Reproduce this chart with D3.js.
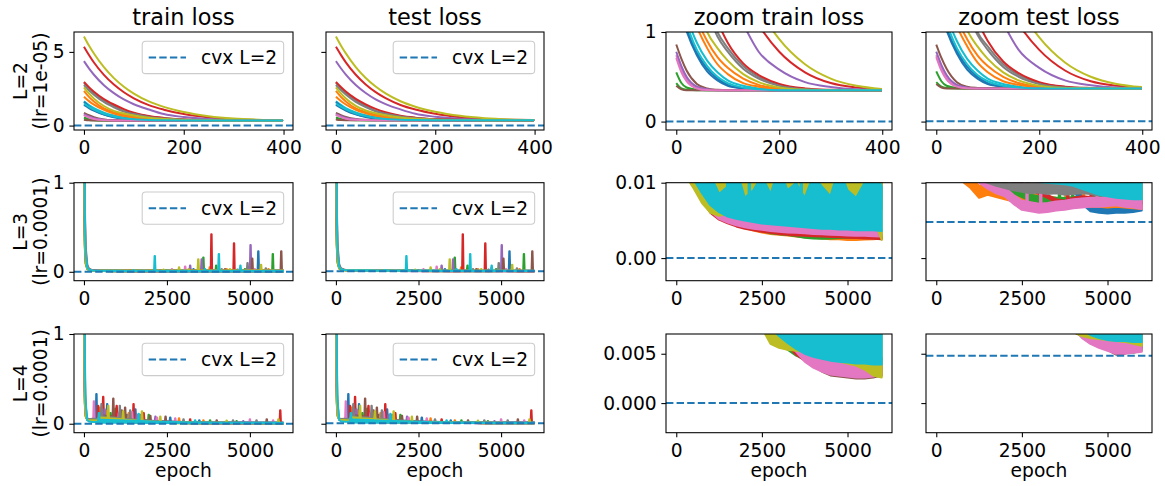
<!DOCTYPE html>
<html><head><meta charset="utf-8">
<script src="https://cdn.jsdelivr.net/npm/d3@7"></script>
<style>body{margin:0;background:#fff}svg{display:block}text{font-family:"DejaVu Sans",sans-serif}</style>
</head><body><svg id="c" width="1165" height="486"></svg>
<script>
// ---------------- data ----------------
const colors = ["#1f77b4","#ff7f0e","#2ca02c","#d62728","#9467bd","#8c564b","#e377c2","#7f7f7f","#bcbd22","#17becf"];
const colTitles = ["train loss","test loss","zoom train loss","zoom test loss"];
const rowLabels = [["L=2","(lr=1e-05)"],["L=3","(lr=0.0001)"],["L=4","(lr=0.0001)"]];
const legendLabel = "cvx L=2";
const xLabel = "epoch";
const cvxTrain = 0.0, cvxTest = 0.0048;
const xTicksL2 = [0,200,400], xTicksLong = [0,2500,5000];

// L=2 : 20 runs, loss sampled at these epochs
const epochsL2 = [0,10,20,40,60,80,100,130,160,200,250,300,350,399];
const trainL2 = [
 [1.40,1.19,1.01,0.74,0.56,0.46,0.40,0.37,0.355,0.35,0.35,0.35,0.35,0.35],
 [2.36,1.95,1.63,1.16,0.90,0.72,0.60,0.48,0.41,0.37,0.355,0.35,0.35,0.35],
 [0.55,0.43,0.38,0.355,0.35,0.35,0.35,0.35,0.35,0.35,0.35,0.35,0.35,0.35],
 [5.35,4.79,4.28,3.44,2.78,2.26,1.85,1.39,1.08,0.78,0.55,0.43,0.38,0.36],
 [4.37,3.88,3.45,2.74,2.20,1.77,1.45,1.09,0.78,0.58,0.44,0.385,0.36,0.355],
 [0.86,0.70,0.57,0.42,0.37,0.355,0.35,0.35,0.35,0.35,0.35,0.35,0.35,0.35],
 [0.74,0.58,0.47,0.38,0.355,0.35,0.35,0.35,0.35,0.35,0.35,0.35,0.35,0.35],
 [2.90,2.52,2.20,1.69,1.32,1.00,0.82,0.62,0.50,0.41,0.365,0.352,0.35,0.35],
 [6.05,5.43,4.89,3.96,3.22,2.64,2.17,1.64,1.27,0.92,0.64,0.48,0.40,0.365],
 [1.65,1.39,1.18,0.88,0.68,0.55,0.46,0.40,0.37,0.355,0.35,0.35,0.35,0.35],
 [1.60,1.30,1.05,0.77,0.59,0.48,0.41,0.37,0.355,0.35,0.35,0.35,0.35,0.35],
 [1.96,1.66,1.42,1.06,0.82,0.64,0.53,0.43,0.39,0.36,0.35,0.35,0.35,0.35],
 [0.43,0.37,0.355,0.35,0.35,0.35,0.35,0.35,0.35,0.35,0.35,0.35,0.35,0.35],
 [2.97,2.61,2.30,1.80,1.43,1.12,0.88,0.65,0.52,0.42,0.37,0.355,0.35,0.35],
 [0.78,0.62,0.50,0.39,0.36,0.35,0.35,0.35,0.35,0.35,0.35,0.35,0.35,0.35],
 [0.40,0.36,0.35,0.35,0.35,0.35,0.35,0.35,0.35,0.35,0.35,0.35,0.35,0.35],
 [0.71,0.55,0.45,0.37,0.352,0.35,0.35,0.35,0.35,0.35,0.35,0.35,0.35,0.35],
 [2.75,2.40,2.10,1.60,1.24,0.95,0.78,0.59,0.48,0.40,0.36,0.35,0.35,0.35],
 [2.60,2.18,1.83,1.33,1.00,0.82,0.68,0.53,0.44,0.38,0.355,0.35,0.35,0.35],
 [1.50,1.27,1.09,0.80,0.62,0.50,0.43,0.38,0.36,0.35,0.35,0.35,0.35,0.35]
];
const testL2 = [
 [1.40,1.20,1.02,0.76,0.58,0.48,0.42,0.39,0.375,0.37,0.37,0.37,0.37,0.37],
 [2.36,1.96,1.64,1.17,0.92,0.74,0.62,0.50,0.43,0.39,0.375,0.37,0.37,0.37],
 [0.56,0.45,0.40,0.375,0.37,0.37,0.37,0.37,0.37,0.37,0.37,0.37,0.37,0.37],
 [5.35,4.80,4.29,3.45,2.79,2.27,1.86,1.40,1.09,0.80,0.57,0.45,0.40,0.38],
 [4.37,3.89,3.46,2.75,2.21,1.78,1.46,1.10,0.80,0.60,0.46,0.405,0.38,0.375],
 [0.86,0.71,0.59,0.44,0.39,0.375,0.37,0.37,0.37,0.37,0.37,0.37,0.37,0.37],
 [0.74,0.59,0.49,0.40,0.375,0.37,0.37,0.37,0.37,0.37,0.37,0.37,0.37,0.37],
 [2.90,2.53,2.21,1.70,1.33,1.00,0.84,0.64,0.52,0.43,0.385,0.372,0.37,0.37],
 [6.05,5.44,4.90,3.97,3.23,2.65,2.18,1.65,1.28,0.94,0.66,0.50,0.42,0.385],
 [1.65,1.40,1.19,0.90,0.70,0.57,0.48,0.42,0.39,0.375,0.37,0.37,0.37,0.37],
 [1.60,1.31,1.06,0.79,0.61,0.50,0.43,0.39,0.375,0.37,0.37,0.37,0.37,0.37],
 [1.96,1.67,1.43,1.07,0.84,0.66,0.55,0.45,0.41,0.38,0.37,0.37,0.37,0.37],
 [0.44,0.39,0.375,0.37,0.37,0.37,0.37,0.37,0.37,0.37,0.37,0.37,0.37,0.37],
 [2.97,2.62,2.31,1.81,1.44,1.13,0.90,0.67,0.54,0.44,0.39,0.375,0.37,0.37],
 [0.78,0.63,0.52,0.41,0.38,0.37,0.37,0.37,0.37,0.37,0.37,0.37,0.37,0.37],
 [0.42,0.38,0.37,0.37,0.37,0.37,0.37,0.37,0.37,0.37,0.37,0.37,0.37,0.37],
 [0.72,0.57,0.47,0.39,0.372,0.37,0.37,0.37,0.37,0.37,0.37,0.37,0.37,0.37],
 [2.75,2.41,2.11,1.61,1.25,0.97,0.80,0.61,0.50,0.42,0.38,0.37,0.37,0.37],
 [2.60,2.19,1.84,1.34,1.02,0.84,0.70,0.55,0.46,0.40,0.375,0.37,0.37,0.37],
 [1.50,1.28,1.10,0.82,0.64,0.52,0.45,0.40,0.38,0.37,0.37,0.37,0.37,0.37]
];

// L=3 / L=4 : 10 runs. early decay (single value) then lower / upper envelope of the noisy loss
const epochsDecay = [0,10,25,50,100,150,250,400];
const epochsLong = [500,750,1000,1250,1500,1750,2000,2250,2500,2750,3000,3250,3500,3750,4000,4250,4500,4750,5000,5250,5500,5750,5999];

const decayL3Train = [
 [3.2,1.2,0.35,0.12,0.04,0.025,0.016,0.0125],
 [2.8,1.0,0.3,0.1,0.035,0.02,0.014,0.0108],
 [2.5,0.9,0.28,0.09,0.03,0.019,0.0135,0.0108],
 [4.0,1.5,0.45,0.15,0.05,0.025,0.014,0.0102],
 [3.5,1.3,0.4,0.14,0.045,0.026,0.017,0.013],
 [3.0,1.4,0.6,0.2,0.06,0.03,0.018,0.013],
 [3.8,1.6,0.7,0.25,0.07,0.03,0.015,0.0106],
 [4.2,1.8,0.8,0.3,0.08,0.035,0.019,0.014],
 [2.6,1.0,0.32,0.11,0.035,0.02,0.013,0.0100],
 [5.0,2.0,0.7,0.2,0.05,0.025,0.015,0.011]
];
const loL3Train = [
 [0.012,0.0115,0.011,0.011,0.0108,0.0108,0.0107,0.0107,0.0106,0.0106,0.0106,0.0105,0.0105,0.0105,0.0105,0.0104,0.0104,0.0104,0.0104,0.0103,0.0103,0.0103,0.0103],
 [0.0105,0.0086,0.0066,0.0056,0.0049,0.0044,0.0040,0.00365,0.0034,0.0032,0.0031,0.0030,0.00285,0.00275,0.0027,0.0026,0.0025,0.0025,0.0024,0.0024,0.00245,0.0025,0.0026],
 [0.0108,0.0088,0.0068,0.0058,0.0050,0.0045,0.0041,0.0038,0.00355,0.0033,0.00315,0.00305,0.0029,0.0027,0.0026,0.00255,0.0026,0.00265,0.0027,0.0027,0.00275,0.0028,0.0028],
 [0.0096,0.0076,0.0060,0.0051,0.0046,0.0042,0.0039,0.0037,0.0035,0.00335,0.0032,0.0031,0.0030,0.00295,0.0029,0.00285,0.0028,0.00275,0.0027,0.00265,0.0026,0.00255,0.0025],
 [0.012,0.012,0.011,0.0100,0.0096,0.0098,0.0095,0.0097,0.0094,0.0096,0.0098,0.0095,0.0097,0.0093,0.0096,0.0094,0.0095,0.0092,0.0096,0.0090,0.0088,0.0092,0.0090],
 [0.012,0.011,0.0095,0.0085,0.0088,0.0090,0.0086,0.0089,0.0092,0.0087,0.0090,0.0085,0.0088,0.0091,0.0086,0.0089,0.0084,0.0088,0.0090,0.0085,0.0087,0.0082,0.0080],
 [0.0102,0.0080,0.0062,0.0052,0.0047,0.00435,0.0041,0.0039,0.00375,0.0036,0.0035,0.0034,0.00335,0.0033,0.0032,0.00315,0.0031,0.00305,0.0030,0.00295,0.00295,0.0029,0.00285],
 [0.013,0.012,0.010,0.0090,0.0082,0.0086,0.0080,0.0085,0.0088,0.0082,0.0086,0.0080,0.0084,0.0089,0.0083,0.0086,0.0081,0.0085,0.0082,0.0080,0.0086,0.0083,0.0065],
 [0.0093,0.0073,0.0060,0.0056,0.0059,0.0063,0.0065,0.0060,0.0064,0.0068,0.0060,0.0065,0.0070,0.0064,0.0067,0.0058,0.0061,0.0067,0.0064,0.0060,0.0058,0.0054,0.0024],
 [0.0105,0.0086,0.0070,0.0061,0.0055,0.0052,0.0050,0.0048,0.0046,0.0045,0.0044,0.0043,0.0042,0.0041,0.0040,0.0039,0.0039,0.0038,0.0038,0.0037,0.0037,0.0037,0.0036]
];
const hiL3Train = [
 [0.014,0.0135,0.013,0.013,0.0128,0.0128,0.0127,0.0127,0.0126,0.0126,0.0126,0.0125,0.0125,0.0125,0.0125,0.0124,0.0124,0.0124,0.0124,0.0123,0.0123,0.0123,0.0123],
 [0.011,0.0094,0.0074,0.0063,0.0056,0.0050,0.0046,0.0042,0.0039,0.0037,0.0036,0.0035,0.00335,0.00325,0.0032,0.0031,0.0030,0.0030,0.0029,0.0029,0.00295,0.0030,0.0031],
 [0.0113,0.0093,0.0073,0.0063,0.0055,0.0050,0.0046,0.0043,0.00405,0.0038,0.00365,0.00355,0.0034,0.0032,0.0031,0.00305,0.0031,0.00315,0.0032,0.0032,0.00325,0.0033,0.0033],
 [0.0104,0.0083,0.0066,0.0056,0.0051,0.0047,0.0044,0.0042,0.0040,0.00385,0.0037,0.0036,0.0035,0.00345,0.0034,0.00335,0.0033,0.00325,0.0032,0.00315,0.0031,0.00305,0.0030],
 [0.014,0.014,0.014,0.014,0.014,0.014,0.014,0.014,0.014,0.014,0.014,0.014,0.014,0.014,0.014,0.014,0.014,0.014,0.014,0.014,0.014,0.014,0.014],
 [0.014,0.014,0.014,0.014,0.014,0.014,0.014,0.014,0.014,0.014,0.014,0.014,0.014,0.014,0.014,0.014,0.014,0.014,0.014,0.014,0.014,0.014,0.014],
 [0.011,0.0090,0.0074,0.0065,0.0060,0.0056,0.0053,0.0051,0.0049,0.0047,0.0046,0.0045,0.0044,0.0043,0.0042,0.0041,0.0041,0.0040,0.0040,0.0039,0.0039,0.0039,0.0038],
 [0.014,0.014,0.014,0.014,0.014,0.014,0.014,0.014,0.014,0.014,0.014,0.014,0.014,0.014,0.014,0.014,0.014,0.014,0.014,0.014,0.014,0.014,0.014],
 [0.014,0.014,0.014,0.014,0.014,0.014,0.014,0.014,0.014,0.014,0.014,0.014,0.014,0.014,0.014,0.014,0.014,0.014,0.014,0.014,0.014,0.014,0.014],
 [0.012,0.012,0.011,0.0085,0.0095,0.012,0.0080,0.0090,0.011,0.0085,0.012,0.0090,0.010,0.0080,0.011,0.0095,0.0082,0.012,0.0090,0.0080,0.010,0.012,0.0095]
];

const decayL3Test = [
 [3.2,1.2,0.36,0.13,0.045,0.03,0.02,0.017],
 [2.8,1.0,0.31,0.11,0.04,0.025,0.018,0.014],
 [2.5,0.9,0.29,0.1,0.035,0.024,0.018,0.015],
 [4.0,1.5,0.46,0.16,0.055,0.03,0.019,0.016],
 [3.5,1.3,0.41,0.15,0.05,0.03,0.02,0.017],
 [3.0,1.4,0.61,0.21,0.065,0.035,0.022,0.018],
 [3.8,1.6,0.71,0.26,0.075,0.035,0.02,0.016],
 [4.2,1.8,0.81,0.31,0.085,0.04,0.023,0.018],
 [2.6,1.0,0.33,0.12,0.04,0.025,0.018,0.016],
 [5.0,2.0,0.71,0.21,0.055,0.03,0.02,0.016]
];
const loL3Test = [
 [0.016,0.015,0.014,0.013,0.013,0.0125,0.012,0.012,0.0115,0.0115,0.011,0.011,0.0105,0.0105,0.0090,0.0072,0.0062,0.0060,0.0059,0.0060,0.0060,0.0061,0.0063],
 [0.0125,0.0102,0.0093,0.0080,0.0084,0.0081,0.0078,0.0075,0.0077,0.0074,0.0073,0.0072,0.0071,0.0070,0.0069,0.0069,0.0068,0.0068,0.0067,0.0068,0.0067,0.0066,0.0065],
 [0.014,0.013,0.012,0.011,0.0105,0.0100,0.0092,0.0086,0.0081,0.0076,0.0074,0.0073,0.0072,0.0072,0.0073,0.0073,0.0073,0.0074,0.0075,0.0075,0.0074,0.0073,0.0072],
 [0.015,0.014,0.013,0.012,0.0115,0.011,0.0105,0.010,0.0095,0.0090,0.0085,0.0080,0.0074,0.0072,0.0076,0.0078,0.0077,0.0075,0.0076,0.0075,0.0074,0.0073,0.0072],
 [0.015,0.014,0.013,0.0125,0.012,0.0115,0.011,0.0108,0.0105,0.0103,0.0101,0.0100,0.0098,0.0097,0.0096,0.0095,0.0094,0.0093,0.0092,0.0092,0.0091,0.0090,0.0085],
 [0.0153,0.0143,0.0133,0.0128,0.0123,0.0118,0.0113,0.0111,0.0108,0.0106,0.0104,0.0103,0.0101,0.0100,0.0099,0.0098,0.0097,0.0096,0.0095,0.0095,0.0094,0.0093,0.0088],
 [0.014,0.0125,0.011,0.0100,0.0092,0.0086,0.0082,0.0072,0.0064,0.0062,0.0060,0.0061,0.0063,0.0064,0.0066,0.0067,0.0068,0.0068,0.0069,0.0070,0.0068,0.0067,0.0065],
 [0.013,0.012,0.011,0.0104,0.0100,0.0096,0.0093,0.0090,0.0088,0.0086,0.0087,0.0085,0.0086,0.0084,0.0085,0.0086,0.0085,0.0083,0.0084,0.0085,0.0086,0.0085,0.0080],
 [0.016,0.015,0.014,0.013,0.0125,0.012,0.0115,0.011,0.011,0.0108,0.0105,0.0105,0.0104,0.0103,0.0102,0.0102,0.0101,0.0101,0.0100,0.0100,0.0099,0.0098,0.0080],
 [0.015,0.014,0.013,0.0125,0.012,0.0115,0.011,0.0108,0.0105,0.0103,0.0101,0.0100,0.0099,0.0098,0.0096,0.0092,0.0088,0.0084,0.0082,0.0080,0.0079,0.0078,0.0078]
];
const hiL3Test = [
 [0.017,0.016,0.015,0.014,0.014,0.0135,0.013,0.013,0.0125,0.0125,0.012,0.012,0.0115,0.0115,0.0105,0.0084,0.0074,0.0072,0.0071,0.0072,0.0070,0.0071,0.0073],
 [0.014,0.0118,0.0108,0.0096,0.0098,0.0095,0.0092,0.0088,0.0088,0.0085,0.0083,0.0082,0.0080,0.0079,0.0078,0.0078,0.0076,0.0076,0.0075,0.0075,0.0074,0.0073,0.0072],
 [0.0148,0.0138,0.0128,0.0118,0.0113,0.0108,0.0100,0.0094,0.0089,0.0084,0.0082,0.0081,0.0080,0.0080,0.0081,0.0081,0.0081,0.0082,0.0083,0.0083,0.0082,0.0081,0.0080],
 [0.0154,0.0144,0.0134,0.0124,0.0119,0.0114,0.0109,0.0104,0.0099,0.0094,0.0089,0.0084,0.0078,0.0076,0.0080,0.0082,0.0081,0.0079,0.0080,0.0079,0.0078,0.0077,0.0076],
 [0.017,0.016,0.015,0.0145,0.014,0.0135,0.013,0.0128,0.0125,0.0123,0.0121,0.012,0.0118,0.0117,0.0116,0.0115,0.0114,0.0113,0.0112,0.0112,0.0111,0.011,0.0105],
 [0.0173,0.0163,0.0153,0.0148,0.0143,0.0138,0.0133,0.0131,0.0128,0.0126,0.0124,0.0123,0.0121,0.0120,0.0119,0.0118,0.0117,0.0116,0.0115,0.0115,0.0114,0.0113,0.0108],
 [0.0152,0.0137,0.0122,0.0112,0.0104,0.0098,0.0094,0.0084,0.0076,0.0074,0.0072,0.0073,0.0075,0.0076,0.0078,0.0079,0.0080,0.0080,0.0081,0.0082,0.0080,0.0079,0.0077],
 [0.0155,0.0145,0.0135,0.0129,0.0125,0.0121,0.0118,0.0115,0.0113,0.0111,0.0112,0.0110,0.0111,0.0109,0.0110,0.0111,0.0110,0.0108,0.0109,0.0110,0.0111,0.0110,0.0105],
 [0.018,0.017,0.016,0.015,0.0145,0.014,0.0135,0.013,0.013,0.0128,0.0125,0.0125,0.0124,0.0123,0.0122,0.0122,0.0121,0.0121,0.0120,0.0120,0.0119,0.0118,0.0100],
 [0.018,0.017,0.016,0.0155,0.015,0.0145,0.014,0.0138,0.0135,0.0133,0.0131,0.0130,0.0129,0.0128,0.0126,0.0122,0.0118,0.0114,0.0112,0.0110,0.0109,0.0108,0.0108]
];

const decayL4Train = [
 [3.5,1.0,0.3,0.1,0.05,0.045,0.05,0.048],
 [3.0,0.9,0.25,0.09,0.045,0.04,0.045,0.043],
 [2.8,0.8,0.22,0.08,0.042,0.038,0.042,0.041],
 [4.2,1.3,0.4,0.12,0.05,0.042,0.044,0.041],
 [3.8,1.1,0.35,0.11,0.048,0.045,0.05,0.05],
 [3.3,1.2,0.42,0.13,0.055,0.048,0.05,0.046],
 [3.6,1.1,0.33,0.1,0.045,0.04,0.042,0.039],
 [4.5,1.6,0.6,0.2,0.06,0.05,0.055,0.052],
 [2.9,0.9,0.26,0.09,0.046,0.04,0.04,0.036],
 [5.5,2.2,0.8,0.25,0.04,0.025,0.02,0.02]
];
const loL4Train = [
 [0.035,0.030,0.026,0.022,0.019,0.017,0.015,0.0135,0.0125,0.0115,0.0108,0.0102,0.0098,0.0095,0.0092,0.0090,0.0088,0.0086,0.0085,0.0084,0.0083,0.0082,0.0081],
 [0.032,0.027,0.023,0.019,0.016,0.0145,0.0125,0.0108,0.0095,0.0084,0.0075,0.0068,0.0060,0.0052,0.0045,0.0040,0.0036,0.0034,0.0032,0.0031,0.0030,0.0029,0.0028],
 [0.030,0.026,0.022,0.019,0.016,0.014,0.012,0.010,0.0088,0.0078,0.0065,0.0054,0.0048,0.0044,0.0040,0.0036,0.0033,0.0032,0.0032,0.0033,0.0033,0.0034,0.0035],
 [0.030,0.026,0.022,0.019,0.016,0.0135,0.0115,0.010,0.0088,0.0078,0.0068,0.0058,0.0049,0.0043,0.0039,0.0036,0.0034,0.0033,0.0032,0.0032,0.0033,0.0033,0.0034],
 [0.036,0.031,0.027,0.023,0.020,0.018,0.016,0.014,0.013,0.012,0.011,0.0105,0.010,0.0097,0.0094,0.0092,0.0090,0.0088,0.0087,0.0086,0.0085,0.0084,0.0083],
 [0.031,0.027,0.023,0.020,0.017,0.014,0.012,0.0105,0.0092,0.0080,0.0072,0.0065,0.0056,0.0046,0.0038,0.0032,0.0028,0.0027,0.0026,0.0025,0.0025,0.0026,0.0028],
 [0.029,0.025,0.021,0.018,0.015,0.0125,0.011,0.0095,0.0085,0.0076,0.0070,0.0062,0.0052,0.0042,0.0036,0.0032,0.0029,0.0028,0.0027,0.0026,0.0026,0.0027,0.0029],
 [0.040,0.034,0.029,0.025,0.021,0.019,0.017,0.015,0.0135,0.012,0.011,0.010,0.0095,0.0090,0.0086,0.0082,0.0080,0.0078,0.0076,0.0075,0.0074,0.0073,0.0072],
 [0.035,0.025,0.020,0.016,0.014,0.012,0.0105,0.0090,0.0076,0.0060,0.0056,0.0054,0.0053,0.0052,0.0051,0.0050,0.0046,0.0042,0.0040,0.0038,0.0034,0.0028,0.0026],
 [0.012,0.011,0.0105,0.010,0.0098,0.0095,0.0092,0.0088,0.0083,0.0076,0.0068,0.0061,0.0055,0.0050,0.0047,0.0045,0.0043,0.0042,0.0041,0.0040,0.0040,0.0039,0.0039]
];
const hiL4Train = [
 [0.075,0.065,0.058,0.050,0.044,0.038,0.032,0.027,0.024,0.021,0.019,0.017,0.016,0.015,0.014,0.014,0.013,0.013,0.013,0.012,0.012,0.012,0.012],
 [0.070,0.060,0.052,0.045,0.038,0.032,0.027,0.023,0.019,0.016,0.013,0.011,0.0095,0.0082,0.0070,0.0062,0.0056,0.0052,0.0049,0.0047,0.0045,0.0044,0.0043],
 [0.080,0.065,0.055,0.045,0.038,0.032,0.026,0.022,0.018,0.015,0.012,0.009,0.0075,0.0065,0.0056,0.0050,0.0046,0.0044,0.0043,0.0044,0.0044,0.0045,0.0046],
 [0.090,0.080,0.060,0.050,0.045,0.035,0.028,0.022,0.018,0.015,0.012,0.009,0.0075,0.0060,0.0052,0.0048,0.0045,0.0044,0.0043,0.0043,0.0044,0.0044,0.0045],
 [0.070,0.060,0.052,0.045,0.040,0.034,0.029,0.025,0.022,0.020,0.018,0.016,0.015,0.014,0.014,0.013,0.013,0.012,0.012,0.012,0.012,0.012,0.012],
 [0.095,0.085,0.070,0.055,0.045,0.038,0.030,0.024,0.020,0.016,0.013,0.011,0.009,0.0070,0.0056,0.0046,0.0040,0.0038,0.0037,0.0036,0.0036,0.0037,0.0039],
 [0.070,0.055,0.045,0.038,0.032,0.027,0.022,0.019,0.016,0.013,0.011,0.0095,0.0075,0.0060,0.0052,0.0047,0.0044,0.0043,0.0042,0.0041,0.0041,0.0042,0.0044],
 [0.085,0.075,0.065,0.055,0.048,0.040,0.034,0.029,0.025,0.022,0.020,0.018,0.017,0.016,0.015,0.015,0.014,0.014,0.014,0.013,0.013,0.013,0.013],
 [0.070,0.060,0.055,0.045,0.040,0.030,0.025,0.020,0.018,0.015,0.014,0.013,0.012,0.011,0.010,0.010,0.0095,0.009,0.009,0.0085,0.0085,0.008,0.008],
 [0.045,0.042,0.040,0.036,0.033,0.030,0.026,0.023,0.020,0.018,0.016,0.015,0.014,0.013,0.012,0.012,0.011,0.011,0.0105,0.010,0.010,0.010,0.0095]
];

const decayL4Test = [
 [3.5,1.0,0.31,0.11,0.052,0.047,0.051,0.049],
 [3.0,0.9,0.26,0.095,0.047,0.042,0.046,0.044],
 [2.8,0.8,0.23,0.085,0.044,0.04,0.043,0.042],
 [4.2,1.3,0.41,0.125,0.052,0.044,0.045,0.042],
 [3.8,1.1,0.36,0.115,0.05,0.047,0.051,0.051],
 [3.3,1.2,0.43,0.135,0.057,0.05,0.051,0.047],
 [3.6,1.1,0.34,0.105,0.047,0.042,0.043,0.04],
 [4.5,1.6,0.61,0.21,0.062,0.052,0.056,0.053],
 [2.9,0.9,0.27,0.095,0.048,0.042,0.041,0.037],
 [5.5,2.2,0.81,0.26,0.042,0.027,0.021,0.021]
];
const loL4Test = [
 [0.036,0.031,0.027,0.023,0.020,0.018,0.016,0.0145,0.0135,0.0125,0.0118,0.0112,0.0108,0.0105,0.0102,0.0100,0.0098,0.0096,0.0095,0.0094,0.0093,0.0092,0.0091],
 [0.033,0.028,0.024,0.020,0.017,0.0155,0.0135,0.0120,0.0110,0.0102,0.0096,0.0092,0.0088,0.0085,0.0082,0.0080,0.0078,0.0077,0.0076,0.0075,0.0074,0.0073,0.0072],
 [0.031,0.027,0.023,0.020,0.017,0.015,0.013,0.0115,0.0105,0.0098,0.0092,0.0086,0.0081,0.0077,0.0073,0.0068,0.0062,0.0058,0.0056,0.0055,0.0053,0.0051,0.0053],
 [0.031,0.027,0.023,0.020,0.017,0.0145,0.0125,0.011,0.0100,0.0094,0.0088,0.0083,0.0079,0.0075,0.0072,0.0068,0.0065,0.0063,0.0061,0.0060,0.0060,0.0061,0.0062],
 [0.037,0.032,0.028,0.024,0.021,0.019,0.017,0.015,0.014,0.013,0.012,0.0115,0.011,0.0106,0.0103,0.0100,0.0098,0.0096,0.0094,0.0093,0.0092,0.0091,0.0090],
 [0.032,0.028,0.024,0.021,0.018,0.015,0.013,0.0115,0.0104,0.0096,0.0090,0.0085,0.0081,0.0078,0.0075,0.0070,0.0064,0.0058,0.0054,0.0049,0.0050,0.0053,0.0056],
 [0.030,0.026,0.022,0.019,0.016,0.0135,0.012,0.0108,0.0100,0.0094,0.0090,0.0087,0.0086,0.0082,0.0076,0.0066,0.0060,0.0056,0.0053,0.0050,0.0050,0.0051,0.0052],
 [0.041,0.035,0.030,0.026,0.022,0.020,0.018,0.016,0.0145,0.013,0.012,0.011,0.0105,0.0100,0.0096,0.0092,0.0090,0.0088,0.0086,0.0085,0.0084,0.0083,0.0082],
 [0.036,0.026,0.021,0.017,0.015,0.013,0.0115,0.0105,0.0098,0.0092,0.0088,0.0085,0.0082,0.0078,0.0072,0.0068,0.0066,0.0065,0.0064,0.0063,0.0062,0.0060,0.0058],
 [0.013,0.012,0.0115,0.011,0.0108,0.0105,0.0102,0.0098,0.0094,0.0090,0.0087,0.0084,0.0082,0.0080,0.0078,0.0074,0.0069,0.0066,0.0064,0.0063,0.0063,0.0062,0.0062]
];
const hiL4Test = [
 [0.076,0.066,0.059,0.051,0.045,0.039,0.033,0.028,0.025,0.022,0.020,0.018,0.017,0.016,0.015,0.015,0.014,0.014,0.014,0.013,0.013,0.013,0.013],
 [0.071,0.061,0.053,0.046,0.039,0.033,0.028,0.024,0.020,0.017,0.015,0.013,0.012,0.011,0.010,0.0098,0.0096,0.0094,0.0093,0.0092,0.0091,0.0090,0.0089],
 [0.080,0.066,0.056,0.046,0.039,0.033,0.027,0.023,0.019,0.016,0.013,0.0105,0.0095,0.0088,0.0083,0.0077,0.0070,0.0066,0.0064,0.0063,0.0061,0.0059,0.0061],
 [0.091,0.081,0.061,0.051,0.046,0.036,0.029,0.023,0.019,0.016,0.013,0.0105,0.0092,0.0085,0.0080,0.0076,0.0072,0.0070,0.0068,0.0067,0.0067,0.0068,0.0069],
 [0.071,0.061,0.053,0.046,0.041,0.035,0.030,0.026,0.023,0.021,0.019,0.017,0.016,0.015,0.015,0.014,0.014,0.013,0.013,0.013,0.013,0.013,0.013],
 [0.096,0.086,0.071,0.056,0.046,0.039,0.031,0.025,0.021,0.017,0.014,0.012,0.0100,0.0090,0.0082,0.0076,0.0070,0.0064,0.0060,0.0055,0.0056,0.0059,0.0062],
 [0.071,0.056,0.046,0.039,0.033,0.028,0.023,0.020,0.017,0.014,0.012,0.0105,0.0100,0.0095,0.0088,0.0078,0.0072,0.0068,0.0065,0.0062,0.0062,0.0063,0.0064],
 [0.086,0.076,0.066,0.056,0.049,0.041,0.035,0.030,0.026,0.023,0.021,0.019,0.018,0.017,0.016,0.016,0.015,0.015,0.015,0.014,0.014,0.014,0.014],
 [0.071,0.061,0.056,0.046,0.041,0.031,0.026,0.021,0.019,0.016,0.015,0.014,0.013,0.012,0.011,0.011,0.0105,0.010,0.010,0.0095,0.0095,0.009,0.009],
 [0.046,0.043,0.041,0.037,0.034,0.031,0.027,0.024,0.021,0.019,0.017,0.016,0.015,0.014,0.013,0.013,0.012,0.012,0.0115,0.011,0.011,0.011,0.0105]
];

// isolated loss spikes: [run, epoch, peak loss]
const spikesL3 = [
 [9,2134,0.176],[9,4065,0.20],[9,4715,0.07],[9,3650,0.03],[9,1500,0.02],
 [8,2866,0.05],[8,3445,0.14],[8,5335,0.08],[8,3150,0.03],[8,2400,0.025],[8,4400,0.03],
 [4,3547,0.14],[4,5020,0.30],[4,2300,0.02],[4,3200,0.07],
 [2,3598,0.16],[2,3984,0.07],[2,5691,0.20],[2,1250,0.015],[2,4850,0.03],
 [3,3841,0.42],[3,4522,0.32],[3,2500,0.02],
 [1,3790,0.05],[1,4300,0.03],[1,2700,0.02],[1,2050,0.02],[1,5560,0.03],
 [7,4929,0.10],[7,5480,0.04],[7,1600,0.02],[7,4150,0.03],
 [5,5071,0.15],[5,5945,0.23],[5,4250,0.03],[5,1400,0.02],[5,950,0.015],
 [0,5254,0.23],[0,3300,0.03],[0,4620,0.025],
 [6,1800,0.02],[6,2650,0.03],[6,3050,0.06],[6,4700,0.04],[6,1100,0.015],[6,5150,0.03]
];
const spikesL4 = [
 [0,376,0.33],[3,427,0.20],[7,528,0.22],[3,580,0.30],[8,732,0.20],[5,884,0.28],
 [3,986,0.20],[5,1138,0.15],[5,1240,0.18],[7,1392,0.15],[3,1494,0.22],[8,1748,0.14],
 [2,1951,0.10],[4,2154,0.08],[5,2459,0.08],[1,2866,0.06],[0,3476,0.04],[7,4492,0.04],
 [6,5000,0.05],[5,5508,0.05],[3,5915,0.15],[8,5860,0.05],
 [1,650,0.15],[2,800,0.12],[6,1050,0.12],[0,1300,0.10],[4,1600,0.10],[9,450,0.12],
 [6,2200,0.07],[7,3000,0.05],[2,3800,0.04],[4,4800,0.03],
 [6,300,0.25],[1,470,0.18],[4,620,0.16],[0,700,0.22],[2,950,0.17],[7,1080,0.20],
 [8,1180,0.14],[1,1350,0.12],[6,1450,0.13],[0,1550,0.16],[9,1650,0.11],[3,1800,0.12],
 [7,1700,0.10],[5,2000,0.09],[8,2300,0.08],[0,2600,0.07],[6,2750,0.06],[3,3200,0.05],
 [9,3350,0.04],[1,3600,0.04],[5,4000,0.04],[8,4300,0.035],[2,4600,0.03],[7,5200,0.04],[6,5700,0.04]
];

// ---------------- layout ----------------
const FS = 18.67, TFS = 22.4, TICK = 4.67, LW = 2, SPW = 1.07;
const colX = [[74,293],[326,544],[666,892],[926,1152]];
const rowY = [[32,130],[182.7,280.7],[334,432.7]];
const rowCfg = [
 {xd:[-19.95,418.95], xt:xTicksL2,
  full:{yd:[-0.30,6.35], yt:[0,5], fmt:d=>d3.format("d")(d)},
  zoom:{yd:[-0.094,1], yt:[0,1], fmt:d=>d3.format("d")(d)}},
 {xd:[-299.95,6298.95], xt:xTicksLong,
  full:{yd:[-0.1,1], yt:[0,1], fmt:d=>d3.format("d")(d)},
  zoom:{yd:[-0.003,0.01], yt:[0,0.01], fmt:d3.format(".2f")}},
 {xd:[-299.95,6298.95], xt:xTicksLong,
  full:{yd:[-0.1,1], yt:[0,1], fmt:d=>d3.format("d")(d)},
  zoom:{yd:[-0.003,0.007], yt:[0,0.005], fmt:d3.format(".3f")}}
];
const rowData = [
 {train:trainL2, test:testL2},
 {train:{decay:decayL3Train, lo:loL3Train, hi:hiL3Train, spikes:spikesL3},
  test:{decay:decayL3Test, lo:loL3Test, hi:hiL3Test, spikes:spikesL3}},
 {train:{decay:decayL4Train, lo:loL4Train, hi:hiL4Train, spikes:spikesL4},
  test:{decay:decayL4Test, lo:loL4Test, hi:hiL4Test, spikes:spikesL4}}
];

const svg = d3.select("#c");
let clipId = 0;

function drawPanel(r, c) {
  const [x0,x1] = colX[c], [y0,y1] = rowY[r];
  const cfg = rowCfg[r];
  const isZoom = c >= 2, isTest = c % 2 === 1;
  const yc = isZoom ? cfg.zoom : cfg.full;
  const x = d3.scaleLinear().domain(cfg.xd).range([x0,x1]);
  const y = d3.scaleLinear().domain(yc.yd).range([y1,y0]);
  const g = svg.append("g");
  const id = "clip" + (clipId++);
  g.append("clipPath").attr("id", id).append("rect")
    .attr("x", x0).attr("y", y0).attr("width", x1-x0).attr("height", y1-y0);
  const plot = g.append("g").attr("clip-path", `url(#${id})`);
  const data = isTest ? rowData[r].test : rowData[r].train;

  if (r === 0) {
    const line = d3.line().x((d,j)=>x(epochsL2[j])).y(d=>y(d)).curve(d3.curveMonotoneX);
    data.forEach((s,i)=>{
      plot.append("path").attr("d", line(s)).attr("fill","none")
        .attr("stroke", colors[i%10]).attr("stroke-width", LW).attr("stroke-linejoin","round");
    });
  } else {
    const area = d3.area().x(d=>x(d.t)).y0(d=>y(d.lo)).y1(d=>y(d.hi));
    const spk = d3.line().x(d=>x(d[0])).y(d=>y(d[1]));
    data.decay.forEach((dec,i)=>{
      const pts = epochsDecay.map((t,j)=>({t, lo:dec[j], hi:dec[j]}))
        .concat(epochsLong.map((t,j)=>({t, lo:data.lo[i][j], hi:data.hi[i][j]})));
      plot.append("path").attr("d", area(pts))
        .attr("fill", colors[i]).attr("stroke", colors[i]).attr("stroke-width", LW)
        .attr("stroke-linejoin","round");
      const hiAt = d3.scaleLinear().domain(pts.map(p=>p.t)).range(pts.map(p=>p.hi)).clamp(true);
      data.spikes.filter(s=>s[0]===i).forEach(([_,t,h])=>{
        const b = hiAt(t);
        plot.append("path").attr("d", spk([[t-22,b],[t-6,h],[t+6,h],[t+22,b]]) + "Z")
          .attr("fill", colors[i]).attr("stroke", colors[i]).attr("stroke-width", LW)
          .attr("stroke-linejoin","round");
      });
    });
  }
  // convex baseline (axhline)
  const cv = isTest ? cvxTest : cvxTrain;
  plot.append("line").attr("x1",x0).attr("x2",x1).attr("y1",y(cv)).attr("y2",y(cv))
    .attr("stroke", colors[0]).attr("stroke-width", LW).attr("stroke-dasharray","7.4,3.2");

  // axes
  const xa = g.append("g").attr("transform",`translate(0,${y1})`)
    .call(d3.axisBottom(x).tickValues(cfg.xt).tickSize(TICK).tickPadding(6.3).tickSizeOuter(0)
      .tickFormat(d3.format("d")));
  const ya = g.append("g").attr("transform",`translate(${x0},0)`)
    .call(d3.axisLeft(y).tickValues(yc.yt).tickSize(TICK).tickPadding(4.67).tickSizeOuter(0)
      .tickFormat(c % 2 === 0 ? yc.fmt : ()=>""));
  [xa, ya].forEach(a=>{
    a.select(".domain").remove();
    a.attr("font-size", FS).attr("font-family","DejaVu Sans");
    a.selectAll("line").attr("stroke","#000").attr("stroke-width", SPW);
    a.selectAll("text").attr("fill","#000");
  });
  g.append("rect").attr("x",x0).attr("y",y0).attr("width",x1-x0).attr("height",y1-y0)
    .attr("fill","none").attr("stroke","#000").attr("stroke-width",SPW);

  // legend
  if (!isZoom) {
    const lg = g.append("g");
    const box = lg.append("rect");
    const txt = lg.append("text").text(legendLabel).attr("font-size", FS);
    const tw = txt.node().getComputedTextLength();
    const w = 6.5 + 37.3 + 15 + tw + 6.5, h = 32.3;
    const bx = x1 - 9.33 - w, by = y0 + 9.33;
    box.attr("x",bx).attr("y",by).attr("width",w).attr("height",h).attr("rx",3.5)
      .attr("fill","#fff").attr("fill-opacity",0.8).attr("stroke","#cccccc").attr("stroke-width",SPW);
    lg.append("line").attr("x1",bx+6.5).attr("x2",bx+6.5+37.3).attr("y1",by+h/2).attr("y2",by+h/2)
      .attr("stroke",colors[0]).attr("stroke-width",LW).attr("stroke-dasharray","7.4,3.2");
    txt.attr("x", bx+6.5+37.3+15).attr("y", by+h/2).attr("dy","0.35em");
    txt.raise();
  }
  if (r === 0) {
    svg.append("text").attr("x",(x0+x1)/2).attr("y",25).attr("text-anchor","middle")
      .attr("font-size",TFS).text(colTitles[c]);
  }
  if (r === 2) {
    svg.append("text").attr("x",(x0+x1)/2).attr("y",477).attr("text-anchor","middle")
      .attr("font-size",FS).text(xLabel);
  }
  if (c === 0) {
    const cy = (y0+y1)/2;
    rowLabels[r].forEach((s,k)=>{
      svg.append("text").attr("transform",`translate(${k===0?27:47},${cy}) rotate(-90)`)
        .attr("text-anchor","middle").attr("font-size",FS).text(s);
    });
  }
}
for (let r=0;r<3;r++) for (let c=0;c<4;c++) drawPanel(r,c);
</script></body></html>
